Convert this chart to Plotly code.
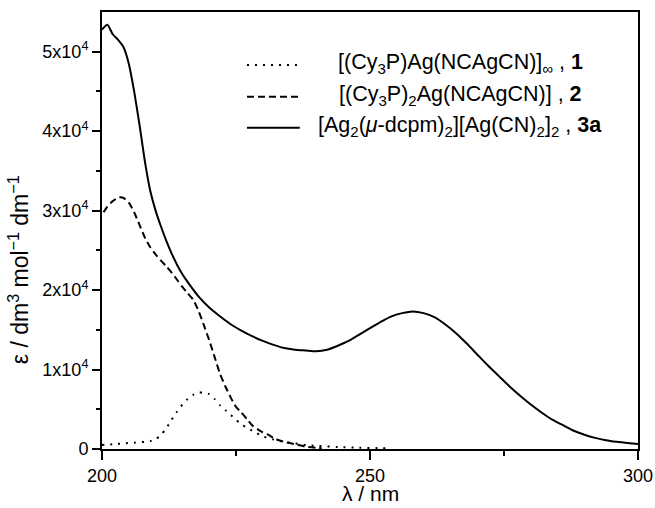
import plotly.graph_objects as go

# ---- data (epsilon in units of 1e4 dm3 mol-1 cm-1) ----
wl_1 = [200, 202, 204, 206, 208, 209, 210, 211, 212, 213, 214, 215, 216, 217, 218, 219,
        220, 221, 222, 223, 224, 225, 226, 227, 228, 230, 232, 234, 236, 238, 240, 244,
        248, 252, 254]
eps_1 = [0.05, 0.06, 0.07, 0.08, 0.09, 0.10, 0.12, 0.18, 0.26, 0.37, 0.47, 0.56, 0.63, 0.68,
         0.71, 0.71, 0.69, 0.63, 0.55, 0.49, 0.43, 0.37, 0.31, 0.27, 0.23, 0.16, 0.12, 0.09,
         0.07, 0.05, 0.04, 0.025, 0.015, 0.01, 0.005]

wl_2 = [200.3, 201, 202, 203, 203.5, 204, 205, 206, 207, 208, 209, 210, 211, 212, 213, 214,
        215, 216, 217, 218, 219, 220, 221, 222, 223, 224, 225, 226, 227, 228, 229, 230,
        231, 232, 233, 234, 236, 238, 240, 241]
eps_2 = [2.98, 3.05, 3.12, 3.16, 3.17, 3.16, 3.10, 2.98, 2.82, 2.66, 2.54, 2.45, 2.37, 2.30,
         2.22, 2.13, 2.04, 1.96, 1.88, 1.74, 1.56, 1.37, 1.16, 0.95, 0.79, 0.65, 0.53, 0.46,
         0.38, 0.30, 0.25, 0.21, 0.18, 0.14, 0.11, 0.09, 0.06, 0.03, 0.015, 0.01]

wl_3 = [200, 201, 202, 203, 204, 205, 206, 207, 208, 209, 210, 211, 212, 213, 214, 215, 216,
        218, 220, 222, 224, 226, 228, 230, 232, 234, 236, 238, 240, 242, 244, 246, 248, 250,
        252, 254, 256, 258, 260, 262, 264, 266, 268, 270, 272, 274, 276, 278, 280, 282, 284,
        286, 288, 290, 292, 294, 296, 298, 300]
eps_3 = [5.28, 5.34, 5.22, 5.15, 5.06, 4.85, 4.50, 4.08, 3.62, 3.25, 3.00, 2.80, 2.62, 2.46,
         2.32, 2.20, 2.10, 1.92, 1.78, 1.67, 1.57, 1.49, 1.42, 1.36, 1.31, 1.27, 1.25, 1.24,
         1.23, 1.25, 1.30, 1.36, 1.44, 1.52, 1.60, 1.67, 1.71, 1.73, 1.71, 1.66, 1.57, 1.46,
         1.33, 1.19, 1.05, 0.92, 0.79, 0.67, 0.56, 0.46, 0.37, 0.30, 0.23, 0.18, 0.14, 0.11,
         0.09, 0.075, 0.063]

labels = ["[(Cy<sub>3</sub>P)Ag(NCAgCN)]<sub>∞</sub> , <b>1</b>",
          "[(Cy<sub>3</sub>P)<sub>2</sub>Ag(NCAgCN)] , <b>2</b>",
          "[Ag<sub>2</sub>(<i>μ</i>-dcpm)<sub>2</sub>][Ag(CN)<sub>2</sub>]<sub>2</sub> , <b>3a</b>"]
dashes = ["2px,6px", "7px,4px", "solid"]

y_major = [0, 10000, 20000, 30000, 40000, 50000]
y_major_text = ["0", "1x10<sup>4</sup>", "2x10<sup>4</sup>", "3x10<sup>4</sup>",
                "4x10<sup>4</sup>", "5x10<sup>4</sup>"]
x_major = [200, 250, 300]
x_title = "λ / nm"
y_title = "ε / dm<sup>3</sup> mol<sup>−1</sup> dm<sup>−1</sup>"

FONT = "Liberation Sans, Arial, sans-serif"

fig = go.Figure()
for wl, eps, dash, name in [(wl_1, eps_1, dashes[0], labels[0]),
                            (wl_2, eps_2, dashes[1], labels[1]),
                            (wl_3, eps_3, dashes[2], labels[2])]:
    fig.add_trace(go.Scatter(x=wl, y=[e * 1e4 for e in eps], mode="lines",
                             line=dict(color="black", width=2, dash=dash, shape="spline",
                                       smoothing=0.6),
                             name=name, showlegend=False))

# legend drawn as samples + centered text
leg_y = [0.879, 0.806, 0.735]
for yy, dash, txt in zip(leg_y, dashes, labels):
    fig.add_shape(type="line", xref="paper", yref="paper", x0=0.2705, x1=0.369, y0=yy, y1=yy,
                  line=dict(color="black", width=2, dash=dash))
    fig.add_annotation(xref="paper", yref="paper", x=0.668, y=yy + 0.004, text=txt,
                       showarrow=False, xanchor="center", yanchor="middle",
                       font=dict(family=FONT, size=21.5, color="black"))

# axis titles
fig.add_annotation(xref="paper", yref="paper", x=0.5, y=-0.1327, text=x_title,
                   showarrow=False, xanchor="center", yanchor="bottom",
                   font=dict(family=FONT, size=21, color="black"))
fig.add_annotation(xref="paper", yref="paper", x=-0.156, y=0.41, text=y_title, textangle=-90,
                   showarrow=False, xanchor="center", yanchor="middle",
                   font=dict(family=FONT, size=23, color="black"))

fig.update_layout(
    width=655, height=508,
    margin=dict(l=102, r=17, t=12, b=59, autoexpand=False),
    plot_bgcolor="white", paper_bgcolor="white",
    font=dict(family=FONT, size=18, color="black"),
    xaxis=dict(range=[200, 300], tickvals=x_major, ticks="outside", ticklen=9, tickwidth=2,
               tickcolor="black", showline=True, linewidth=2, linecolor="black", mirror=True,
               showgrid=False, zeroline=False, automargin=False,
               minor=dict(tickvals=[225, 275], ticks="outside", ticklen=5, tickwidth=2,
                          tickcolor="black", showgrid=False)),
    yaxis=dict(range=[0, 55000], tickvals=y_major, ticktext=y_major_text, ticks="outside",
               ticklen=8, tickwidth=2, tickcolor="black", showline=True, linewidth=2,
               linecolor="black", mirror=True, showgrid=False, zeroline=False, automargin=False,
               minor=dict(tickvals=[5000, 15000, 25000, 35000, 45000], ticks="outside",
                          ticklen=4, tickwidth=2, tickcolor="black", showgrid=False)),
)

fig.write_html("out.html", config={"displayModeBar": False},
               post_script="document.body.style.margin='0';")
